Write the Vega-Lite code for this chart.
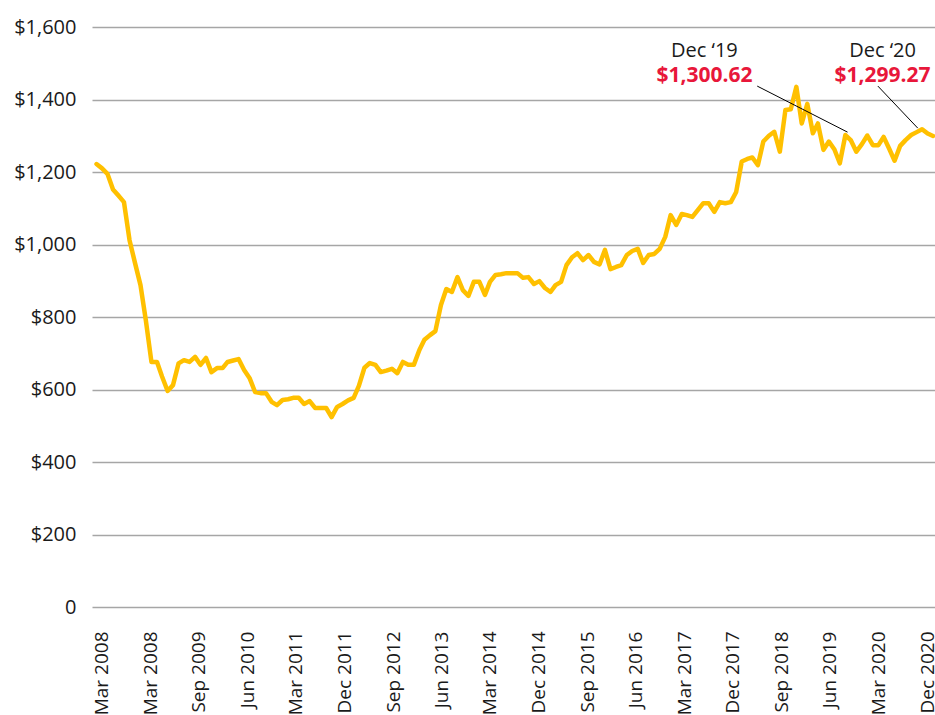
{
  "$schema": "https://vega.github.io/schema/vega-lite/v6.json",
  "width": 843,
  "height": 580,
  "autosize": {"type": "none"},
  "padding": {"left": 92, "top": 27, "right": 0, "bottom": 108},
  "background": "white",
  "config": {"view": {"stroke": null}, "font": "Open Sans"},
  "layer": [
    {
      "data": {"values": [
        {"date": "2008-03-01", "value": 1222}, {"date": "2008-04-01", "value": 1210}, {"date": "2008-05-01", "value": 1195}, {"date": "2008-06-01", "value": 1152},
        {"date": "2008-07-01", "value": 1135}, {"date": "2008-08-01", "value": 1117}, {"date": "2008-09-01", "value": 1012}, {"date": "2008-10-01", "value": 950},
        {"date": "2008-11-01", "value": 888}, {"date": "2008-12-01", "value": 790}, {"date": "2009-01-01", "value": 676}, {"date": "2009-02-01", "value": 676},
        {"date": "2009-03-01", "value": 636}, {"date": "2009-04-01", "value": 596}, {"date": "2009-05-01", "value": 612}, {"date": "2009-06-01", "value": 672},
        {"date": "2009-07-01", "value": 681}, {"date": "2009-08-01", "value": 676}, {"date": "2009-09-01", "value": 690}, {"date": "2009-10-01", "value": 668},
        {"date": "2009-11-01", "value": 687}, {"date": "2009-12-01", "value": 648}, {"date": "2010-01-01", "value": 659}, {"date": "2010-02-01", "value": 659},
        {"date": "2010-03-01", "value": 676}, {"date": "2010-04-01", "value": 680}, {"date": "2010-05-01", "value": 684}, {"date": "2010-06-01", "value": 654},
        {"date": "2010-07-01", "value": 632}, {"date": "2010-08-01", "value": 593}, {"date": "2010-09-01", "value": 590}, {"date": "2010-10-01", "value": 590},
        {"date": "2010-11-01", "value": 566}, {"date": "2010-12-01", "value": 557}, {"date": "2011-01-01", "value": 571}, {"date": "2011-02-01", "value": 573},
        {"date": "2011-03-01", "value": 577}, {"date": "2011-04-01", "value": 577}, {"date": "2011-05-01", "value": 560}, {"date": "2011-06-01", "value": 568},
        {"date": "2011-07-01", "value": 549}, {"date": "2011-08-01", "value": 549}, {"date": "2011-09-01", "value": 549}, {"date": "2011-10-01", "value": 524},
        {"date": "2011-11-01", "value": 552}, {"date": "2011-12-01", "value": 560}, {"date": "2012-01-01", "value": 570}, {"date": "2012-02-01", "value": 577},
        {"date": "2012-03-01", "value": 610}, {"date": "2012-04-01", "value": 660}, {"date": "2012-05-01", "value": 673}, {"date": "2012-06-01", "value": 668},
        {"date": "2012-07-01", "value": 648}, {"date": "2012-08-01", "value": 652}, {"date": "2012-09-01", "value": 657}, {"date": "2012-10-01", "value": 645},
        {"date": "2012-11-01", "value": 676}, {"date": "2012-12-01", "value": 668}, {"date": "2013-01-01", "value": 668}, {"date": "2013-02-01", "value": 709},
        {"date": "2013-03-01", "value": 737}, {"date": "2013-04-01", "value": 750}, {"date": "2013-05-01", "value": 761}, {"date": "2013-06-01", "value": 833},
        {"date": "2013-07-01", "value": 877}, {"date": "2013-08-01", "value": 869}, {"date": "2013-09-01", "value": 910}, {"date": "2013-10-01", "value": 874},
        {"date": "2013-11-01", "value": 858}, {"date": "2013-12-01", "value": 897}, {"date": "2014-01-01", "value": 897}, {"date": "2014-02-01", "value": 861},
        {"date": "2014-03-01", "value": 897}, {"date": "2014-04-01", "value": 916}, {"date": "2014-05-01", "value": 918}, {"date": "2014-06-01", "value": 921},
        {"date": "2014-07-01", "value": 921}, {"date": "2014-08-01", "value": 921}, {"date": "2014-09-01", "value": 908}, {"date": "2014-10-01", "value": 910},
        {"date": "2014-11-01", "value": 891}, {"date": "2014-12-01", "value": 899}, {"date": "2015-01-01", "value": 880}, {"date": "2015-02-01", "value": 869},
        {"date": "2015-03-01", "value": 888}, {"date": "2015-04-01", "value": 897}, {"date": "2015-05-01", "value": 943}, {"date": "2015-06-01", "value": 965},
        {"date": "2015-07-01", "value": 976}, {"date": "2015-08-01", "value": 957}, {"date": "2015-09-01", "value": 971}, {"date": "2015-10-01", "value": 952},
        {"date": "2015-11-01", "value": 945}, {"date": "2015-12-01", "value": 985}, {"date": "2016-01-01", "value": 932}, {"date": "2016-02-01", "value": 938},
        {"date": "2016-03-01", "value": 943}, {"date": "2016-04-01", "value": 971}, {"date": "2016-05-01", "value": 982}, {"date": "2016-06-01", "value": 988},
        {"date": "2016-07-01", "value": 949}, {"date": "2016-08-01", "value": 971}, {"date": "2016-09-01", "value": 974}, {"date": "2016-10-01", "value": 988},
        {"date": "2016-11-01", "value": 1021}, {"date": "2016-12-01", "value": 1081}, {"date": "2017-01-01", "value": 1054}, {"date": "2017-02-01", "value": 1084},
        {"date": "2017-03-01", "value": 1081}, {"date": "2017-04-01", "value": 1076}, {"date": "2017-05-01", "value": 1095}, {"date": "2017-06-01", "value": 1114},
        {"date": "2017-07-01", "value": 1114}, {"date": "2017-08-01", "value": 1090}, {"date": "2017-09-01", "value": 1117}, {"date": "2017-10-01", "value": 1114},
        {"date": "2017-11-01", "value": 1117}, {"date": "2017-12-01", "value": 1145}, {"date": "2018-01-01", "value": 1229}, {"date": "2018-02-01", "value": 1236},
        {"date": "2018-03-01", "value": 1240}, {"date": "2018-04-01", "value": 1219}, {"date": "2018-05-01", "value": 1284}, {"date": "2018-06-01", "value": 1300},
        {"date": "2018-07-01", "value": 1311}, {"date": "2018-08-01", "value": 1256}, {"date": "2018-09-01", "value": 1371}, {"date": "2018-10-01", "value": 1373},
        {"date": "2018-11-01", "value": 1435}, {"date": "2018-12-01", "value": 1334}, {"date": "2019-01-01", "value": 1388}, {"date": "2019-02-01", "value": 1307},
        {"date": "2019-03-01", "value": 1334}, {"date": "2019-04-01", "value": 1261}, {"date": "2019-05-01", "value": 1284}, {"date": "2019-06-01", "value": 1262},
        {"date": "2019-07-01", "value": 1224}, {"date": "2019-08-01", "value": 1302}, {"date": "2019-09-01", "value": 1287}, {"date": "2019-10-01", "value": 1256},
        {"date": "2019-11-01", "value": 1277}, {"date": "2019-12-01", "value": 1300.62}, {"date": "2020-01-01", "value": 1274}, {"date": "2020-02-01", "value": 1274},
        {"date": "2020-03-01", "value": 1297}, {"date": "2020-04-01", "value": 1264}, {"date": "2020-05-01", "value": 1231}, {"date": "2020-06-01", "value": 1272},
        {"date": "2020-07-01", "value": 1288}, {"date": "2020-08-01", "value": 1302}, {"date": "2020-09-01", "value": 1310}, {"date": "2020-10-01", "value": 1318},
        {"date": "2020-11-01", "value": 1306}, {"date": "2020-12-01", "value": 1299.27}
      ]},
      "mark": {"type": "line", "color": "#FFC000", "strokeWidth": 4.5, "strokeJoin": "round", "strokeCap": "round"},
      "encoding": {
        "x": {
          "field": "date", "type": "temporal",
          "scale": {"type": "utc", "nice": false, "domain": [{"year": 2008, "month": 2, "date": 5, "utc": true}, {"year": 2020, "month": 12, "date": 12, "utc": true}]},
          "axis": {
            "title": null, "grid": false, "domain": false, "ticks": false,
            "values": [
              {"year": 2008, "month": 3, "date": 1, "utc": true}, {"year": 2008, "month": 12, "date": 1, "utc": true},
              {"year": 2009, "month": 9, "date": 1, "utc": true}, {"year": 2010, "month": 6, "date": 1, "utc": true},
              {"year": 2011, "month": 3, "date": 1, "utc": true}, {"year": 2011, "month": 12, "date": 1, "utc": true},
              {"year": 2012, "month": 9, "date": 1, "utc": true}, {"year": 2013, "month": 6, "date": 1, "utc": true},
              {"year": 2014, "month": 3, "date": 1, "utc": true}, {"year": 2014, "month": 12, "date": 1, "utc": true},
              {"year": 2015, "month": 9, "date": 1, "utc": true}, {"year": 2016, "month": 6, "date": 1, "utc": true},
              {"year": 2017, "month": 3, "date": 1, "utc": true}, {"year": 2017, "month": 12, "date": 1, "utc": true},
              {"year": 2018, "month": 9, "date": 1, "utc": true}, {"year": 2019, "month": 6, "date": 1, "utc": true},
              {"year": 2020, "month": 3, "date": 1, "utc": true}, {"year": 2020, "month": 12, "date": 1, "utc": true}
            ],
            "labelExpr": "utcFormat(datum.value, '%b %Y') === 'Dec 2008' ? 'Mar 2008' : utcFormat(datum.value, '%b %Y')",
            "labelAngle": -90, "labelAlign": "right", "labelBaseline": "middle",
            "labelPadding": 24, "labelFont": "Open Sans", "labelFontSize": 19, "labelColor": "#1a1a1a",
            "labelOverlap": false, "labelBound": false, "labelFlush": false,
            "labelOffset": {"expr": "5 - 11 * (datum.value - utc(2008, 2, 1)) / (utc(2020, 11, 1) - utc(2008, 2, 1))"}
          }
        },
        "y": {
          "field": "value", "type": "quantitative",
          "scale": {"domain": [0, 1600], "nice": false, "zero": true},
          "axis": {
            "title": null, "domain": false, "ticks": false, "grid": true,
            "gridColor": "#a6a6a6", "gridWidth": 1.5,
            "values": [0, 200, 400, 600, 800, 1000, 1200, 1400, 1600],
            "labelExpr": "datum.value === 0 ? '0' : '$' + format(datum.value, ',')",
            "labelPadding": 16, "labelFont": "Open Sans", "labelFontSize": 20, "labelColor": "#1a1a1a",
            "labelOverlap": false, "labelFlush": false
          }
        }
      }
    },
    {
      "data": {"name": "notes", "values": [
        {"label": "Dec \u201819", "amount": "$1,300.62", "labelDate": "2017-06-07", "labelValue": 1517, "fromDate": "2018-03-28", "fromValue": 1437, "tipDate": "2019-08-13", "tipValue": 1310},
        {"label": "Dec \u201820", "amount": "$1,299.27", "labelDate": "2020-02-24", "labelValue": 1517, "fromDate": "2020-01-29", "fromValue": 1437, "tipDate": "2020-09-07", "tipValue": 1321}
      ]},
      "layer": [
        {
          "mark": {"type": "rule", "color": "#000000", "strokeWidth": 1},
          "encoding": {
            "x": {"field": "fromDate", "type": "temporal"},
            "y": {"field": "fromValue", "type": "quantitative"},
            "x2": {"field": "tipDate"},
            "y2": {"field": "tipValue"}
          }
        },
        {
          "mark": {"type": "text", "align": "center", "baseline": "alphabetic", "font": "Open Sans", "fontSize": 20, "color": "#1a1a1a"},
          "encoding": {
            "x": {"field": "labelDate", "type": "temporal"},
            "y": {"field": "labelValue", "type": "quantitative"},
            "text": {"field": "label"}
          }
        },
        {
          "mark": {"type": "text", "align": "center", "baseline": "alphabetic", "font": "Open Sans", "fontSize": 21, "fontWeight": "bold", "color": "#E8173A", "dy": 25},
          "encoding": {
            "x": {"field": "labelDate", "type": "temporal"},
            "y": {"field": "labelValue", "type": "quantitative"},
            "text": {"field": "amount"}
          }
        }
      ]
    }
  ]
}
